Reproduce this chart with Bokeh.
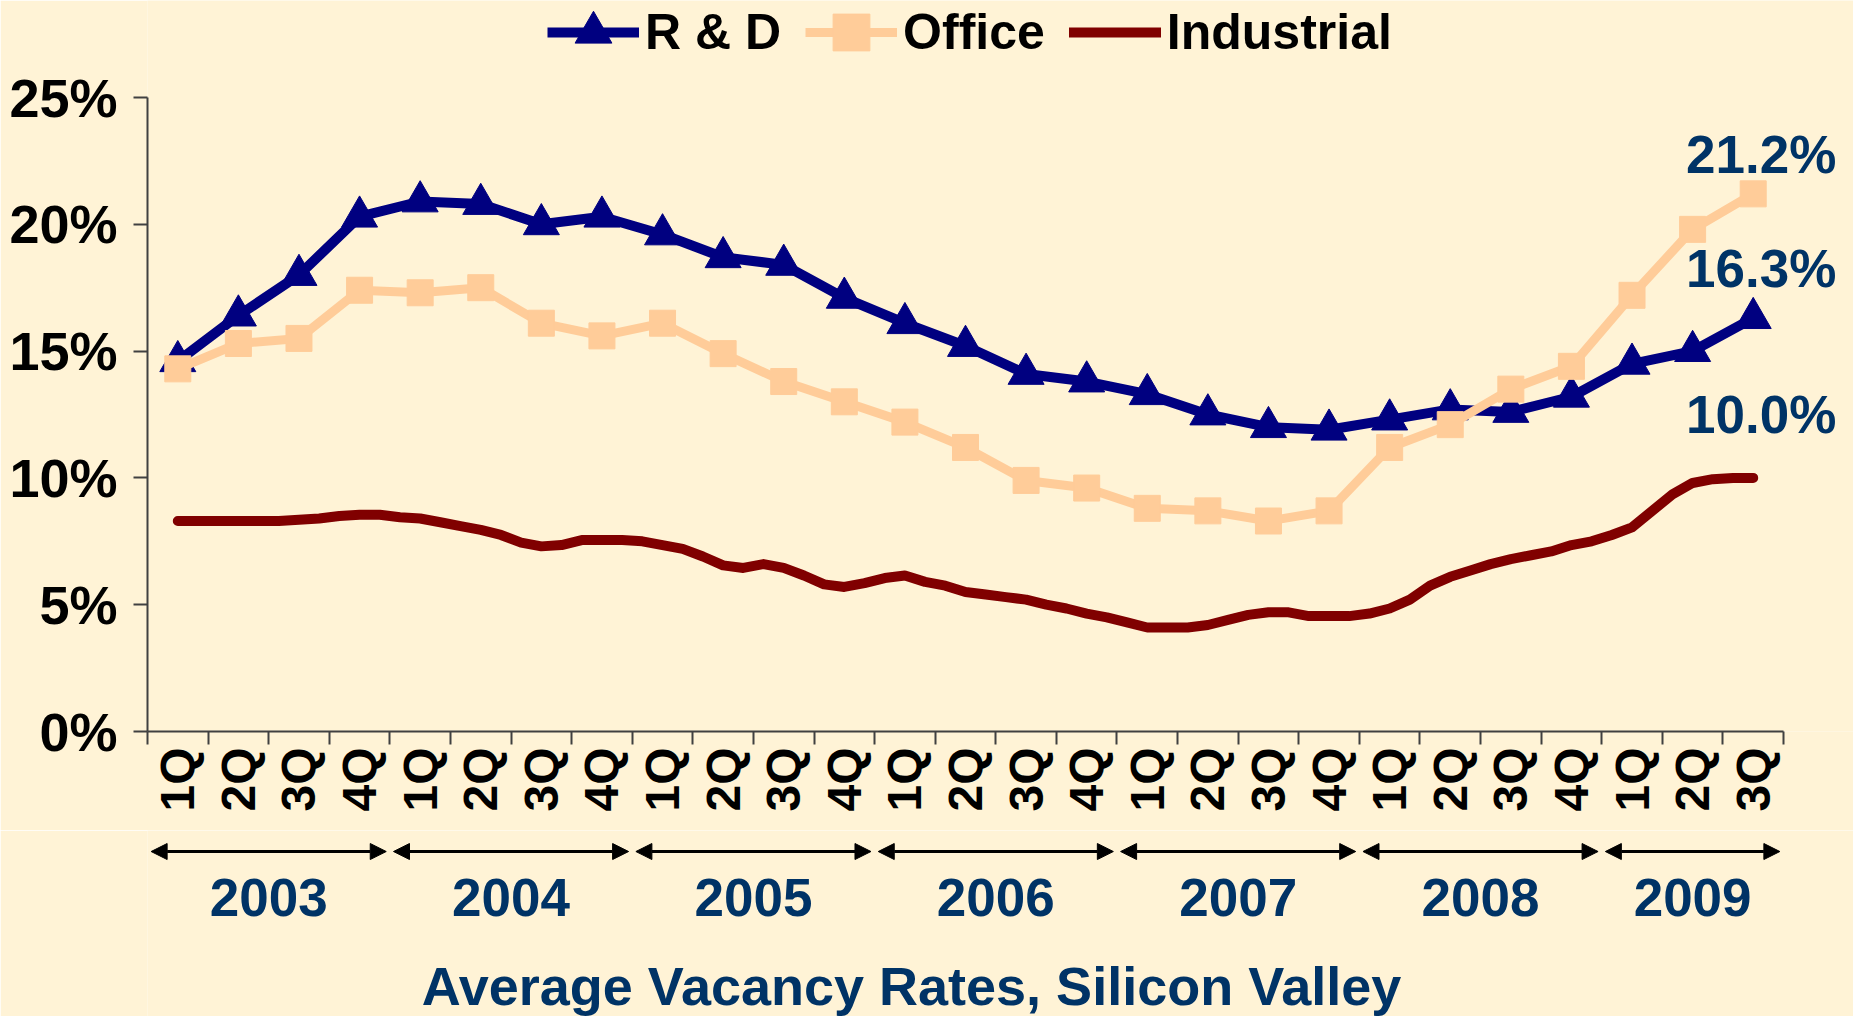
import numpy as np
from bokeh.plotting import figure
from bokeh.models import (FixedTicker, PrintfTickFormatter, Range1d, Legend, LegendItem,
                          Label, Arrow, NormalHead, ColumnDataSource)
from bokeh.layouts import column
from bokeh.embed import file_html
from bokeh.resources import INLINE
from bokeh.core.properties import value

# ---------------- data ----------------
quarters = ["1Q", "2Q", "3Q", "4Q"] * 6 + ["1Q", "2Q", "3Q"]
years = ["2003", "2004", "2005", "2006", "2007", "2008", "2009"]
quarters_per_year = [4, 4, 4, 4, 4, 4, 3]

rd = [14.6, 16.4, 18.0, 20.3, 20.9, 20.8, 20.0, 20.3, 19.6, 18.7, 18.4, 17.1, 16.1, 15.2,
      14.1, 13.8, 13.3, 12.5, 12.0, 11.9, 12.3, 12.7, 12.6, 13.2, 14.5, 15.0, 16.3]
office = [14.3, 15.3, 15.5, 17.4, 17.3, 17.5, 16.1, 15.6, 16.1, 14.9, 13.8, 13.0, 12.2, 11.2,
          9.9, 9.6, 8.8, 8.7, 8.3, 8.7, 11.2, 12.1, 13.5, 14.4, 17.2, 19.8, 21.2]
# monthly readings (3 per quarter)
industrial = [8.3, 8.3, 8.3, 8.3, 8.3, 8.3, 8.35, 8.4, 8.5, 8.55, 8.55, 8.45, 8.4, 8.25,
              8.1, 7.95, 7.75, 7.45, 7.3, 7.35, 7.55, 7.55, 7.55, 7.5, 7.35, 7.2, 6.9, 6.55,
              6.45, 6.6, 6.45, 6.15, 5.8, 5.7, 5.85, 6.05, 6.15, 5.9, 5.75, 5.5, 5.4, 5.3,
              5.2, 5.0, 4.85, 4.65, 4.5, 4.3, 4.1, 4.1, 4.1, 4.2, 4.4, 4.6, 4.7, 4.7, 4.55,
              4.55, 4.55, 4.65, 4.85, 5.2, 5.75, 6.1, 6.35, 6.6, 6.8, 6.95, 7.1, 7.35, 7.5,
              7.75, 8.05, 8.7, 9.35, 9.8, 9.95, 10.0, 10.0]
y_ticks = [0, 5, 10, 15, 20, 25]
y_max = 25

# ---------------- style / layout ----------------
BG = "#FFF3D6"
TXT = "#003366"
FONT = "Liberation Sans"
RD_C, OF_C, IN_C = "#000080", "#FFCC99", "#800000"

W = 1853
H_TOP, H_BOT = 830, 186
LEFT = 147            # frame left edge (px)
AXIS_W = 1636         # pixel length of the category axis
TOP_GAP = 97          # px between canvas top and the top (25%) tick
FRAME_H = 731         # px from canvas top to the 0% line

n = len(quarters)
xq = list(range(n))
xm = [k / 3 for k in range(len(industrial))]

px_per_q = AXIS_W / n
x_end = -0.5 + (W - LEFT) / px_per_q
y_end = y_max * FRAME_H / (FRAME_H - TOP_GAP)

p = figure(width=W, height=H_TOP, output_backend="svg", toolbar_location=None,
           x_range=Range1d(-0.5, x_end), y_range=Range1d(0, y_end),
           min_border_left=LEFT, min_border_right=0, min_border_top=0,
           min_border_bottom=H_TOP - FRAME_H,
           background_fill_color=BG, border_fill_color=BG, outline_line_color=None)
p.grid.visible = False

xa = p.xaxis[0]
xa.bounds = (-0.5, n - 0.5)
xa.ticker = FixedTicker(ticks=xq, minor_ticks=[i - 0.5 for i in range(n + 1)])
xa.major_label_overrides = {i: q for i, q in enumerate(quarters)}
xa.major_label_orientation = np.pi / 2
xa.major_tick_out = 0
xa.major_tick_in = 0
xa.minor_tick_out = 13
xa.minor_tick_in = 0
xa.minor_tick_line_color = "#404040"
xa.minor_tick_line_width = 2
xa.axis_line_color = "#404040"
xa.axis_line_width = 2
xa.major_label_text_font = FONT
xa.major_label_text_font_style = "bold"
xa.major_label_text_font_size = "48px"
xa.major_label_text_color = "black"
xa.major_label_standoff = 3

ya = p.yaxis[0]
ya.bounds = (0, y_max)
ya.ticker = FixedTicker(ticks=y_ticks)
ya.formatter = PrintfTickFormatter(format="%d%%")
ya.major_tick_out = 14
ya.major_tick_in = 0
ya.minor_tick_line_color = None
ya.major_tick_line_color = "#404040"
ya.major_tick_line_width = 2
ya.axis_line_color = "#404040"
ya.axis_line_width = 2
ya.major_label_text_font = FONT
ya.major_label_text_font_style = "bold"
ya.major_label_text_font_size = "54px"
ya.major_label_text_color = "black"
ya.major_label_standoff = 16

rd_line = p.line(xq, rd, line_color=RD_C, line_width=10, line_join="round")
rd_pts = p.scatter(xq, rd, marker="triangle", size=36, fill_color=RD_C, line_color=RD_C)
of_line = p.line(xq, office, line_color=OF_C, line_width=9, line_join="round")
of_pts = p.scatter(xq, office, marker="square", size=26, fill_color=OF_C, line_color=OF_C)
in_line = p.line(xm, industrial, line_color=IN_C, line_width=10, line_join="round",
                 line_cap="round")

for series, dy in [(office, 39), (rd, 50), (industrial, 63)]:
    p.add_layout(Label(x=n - 1, y=series[-1], text=f"{series[-1]:.1f}%", x_offset=8,
                       y_offset=dy, text_align="center", text_baseline="middle",
                       text_font=FONT, text_font_style="bold", text_font_size="53px",
                       text_color=TXT))

legend = Legend(items=[LegendItem(label="R & D", renderers=[rd_line, rd_pts]),
                       LegendItem(label="Office", renderers=[of_line, of_pts]),
                       LegendItem(label="Industrial", renderers=[in_line])],
                orientation="horizontal", location=(400, 649),
                background_fill_alpha=0, border_line_color=None,
                label_text_font=FONT, label_text_font_style="bold",
                label_text_font_size="50px", label_text_color="black",
                glyph_width=92, glyph_height=100, spacing=24, label_standoff=6,
                padding=0, margin=0)
p.add_layout(legend, "center")

# ---------------- lower band: year arrows, years, caption ----------------
p2 = figure(width=W, height=H_BOT, output_backend="svg", toolbar_location=None,
            x_range=p.x_range, y_range=Range1d(0, 1),
            min_border_left=LEFT, min_border_right=0, min_border_top=0, min_border_bottom=0,
            x_axis_location=None, y_axis_location=None,
            background_fill_color=BG, border_fill_color=BG, outline_line_color=None)
p2.grid.visible = False

starts = np.cumsum([0] + quarters_per_year[:-1]) - 0.5
ends = starts + np.array(quarters_per_year)
gap = 0.06
arrow_src = ColumnDataSource(dict(x0=starts + gap, x1=ends - gap, y=[0.887] * len(years)))
p2.add_layout(Arrow(x_start="x0", y_start="y", x_end="x1", y_end="y", source=arrow_src,
                    line_width=3, line_color="black",
                    start=NormalHead(size=16, fill_color="black", line_color="black"),
                    end=NormalHead(size=16, fill_color="black", line_color="black")))
p2.text(x=list((starts + ends) / 2), y=[0.64] * len(years), text=years,
        text_align="center", text_baseline="middle", text_font=value(FONT),
        text_font_style="bold", text_font_size="53px", text_color=TXT)
mid = (xa.bounds[0] + xa.bounds[1]) / 2
p2.text(x=[mid], y=[0.165], text=["Average Vacancy Rates, Silicon Valley"], x_offset=-54,
        text_align="center", text_baseline="middle", text_font=value(FONT),
        text_font_style="bold", text_font_size="54px", text_color=TXT)

layout = column(p, p2, spacing=0)
open("out.html", "w").write(file_html(layout, INLINE))
